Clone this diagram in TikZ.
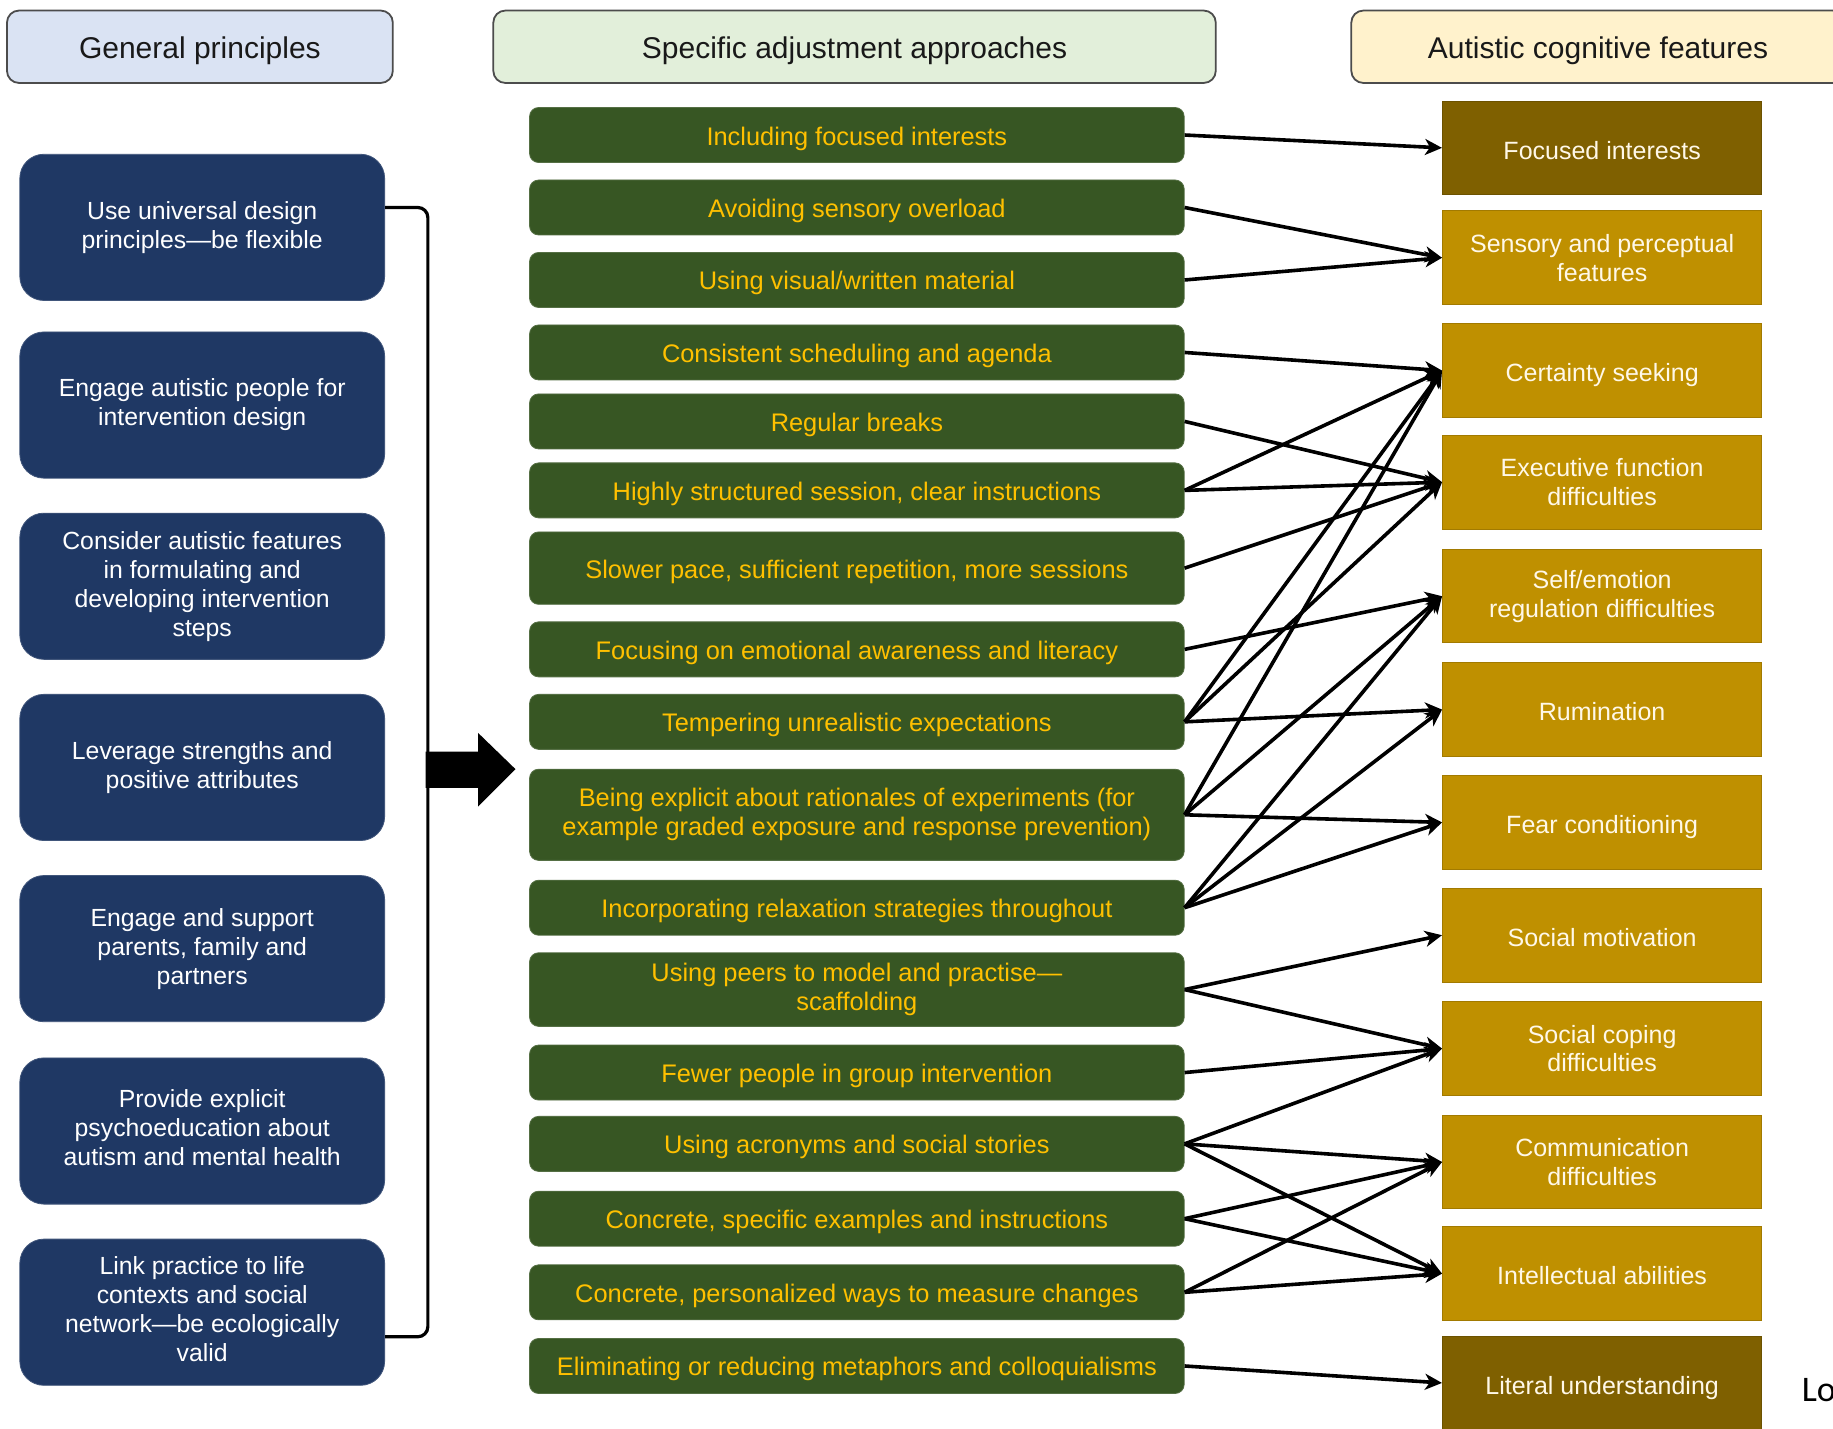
\documentclass[tikz,border=0pt]{standalone}
\usepackage{fontspec}
\setmainfont{Liberation Sans}
\newfontfamily\lofont{Carlito}
\usetikzlibrary{arrows.meta,calc}
\definecolor{cBlue}{HTML}{1F3864}
\definecolor{cGreen}{HTML}{375623}
\definecolor{cGold}{HTML}{BF9000}
\definecolor{cDarkGold}{HTML}{7F6000}
\definecolor{cGoldText}{HTML}{FFC000}
\definecolor{cHdrBlue}{HTML}{DAE3F3}
\definecolor{cHdrGreen}{HTML}{E2EFDA}
\definecolor{cHdrYellow}{HTML}{FFF2CC}
\definecolor{cCream}{HTML}{FFF8E8}
\begin{document}
\begin{tikzpicture}[x=0.5845pt,y=-0.5845pt,
 hdr/.style={draw=black!70,line width=0.9pt,rounded corners=6pt,minimum height=36.2pt,inner sep=0pt,text height=14pt,text depth=2.7pt,font=\fontsize{15}{18}\selectfont,text=black!90},
 gp/.style={fill=cBlue,draw=cBlue!85!white,line width=0.4pt,rounded corners=12pt,minimum width=182.4pt,minimum height=73.1pt,inner sep=0pt,align=center,text=white,font=\fontsize{12.4}{14.5}\selectfont},
 sa/.style={fill=cGreen,draw=cGreen!85!white,line width=0.4pt,rounded corners=4.5pt,minimum width=327.3pt,minimum height=27.5pt,inner sep=0pt,align=center,text=cGoldText,font=\fontsize{12.7}{14.6}\selectfont},
 one/.style={text height=12.6pt,text depth=2.6pt},
 onec/.style={text height=13.6pt,text depth=2.4pt},
 cf/.style={fill=cGold,draw=cGold!85!black,line width=0.5pt,minimum width=159.6pt,minimum height=46.8pt,inner sep=0pt,align=center,text=cCream,font=\fontsize{12.5}{14.4}\selectfont},
 cfdark/.style={cf,fill=cDarkGold,draw=cDarkGold!85!black},
 link/.style={line width=1.8pt,-{Stealth[length=8.5pt,width=8pt,inset=2.5pt]}},
 bracket/.style={line width=1.6pt,rounded corners=5pt}
]
\path[use as bounding box,fill=white] (0,0) rectangle (1568,1222);
\clip (0,0) rectangle (1568,1222);

% headers
\node[hdr,fill=cHdrBlue,minimum width=192.9pt] (h1) at (171,40) {General principles};
\node[hdr,fill=cHdrGreen,minimum width=361.2pt] (h2) at (731,40) {Specific adjustment approaches};
\node[hdr,fill=cHdrYellow,minimum width=246.7pt] (h3) at (1367,40) {Autistic cognitive features};

% general principles
\node[gp] (b1) at (173,194.5) {Use universal design\\principles—be flexible};
\node[gp] (b2) at (173,346.5) {Engage autistic people for\\intervention design};
\node[gp] (b3) at (173,501.5) {Consider autistic features\\in formulating and\\developing intervention\\steps};
\node[gp] (b4) at (173,656.5) {Leverage strengths and\\positive attributes};
\node[gp] (b5) at (173,811.5) {Engage and support\\parents, family and\\partners};
\node[gp] (b6) at (173,967.5) {\raisebox{2pt}{\begin{tabular}{@{}c@{}}Provide explicit\\psychoeducation about\\autism and mental health\end{tabular}}};
\node[gp] (b7) at (173,1122.5) {\raisebox{2.2pt}{\begin{tabular}{@{}c@{}}Link practice to life\\contexts and social\\network—be ecologically\\valid\end{tabular}}};

% bracket and block arrow
\coordinate (bmid) at (366,658);
\draw[bracket] ($(b1.east)+(0,-17)$) -| (bmid) |- ($(b7.east)+(0,21)$);
\fill[black] (364,643) -- (409,643) -- (409,627) -- (441,658) -- (409,690) -- (409,674) -- (364,674) -- cycle;

% specific adjustment approaches
\node[sa,one] (g1) at (733,115.5) {Including focused interests};
\node[sa,one] (g2) at (733,177.5) {Avoiding sensory overload};
\node[sa,one] (g3) at (733,239.5) {Using visual/written material};
\node[sa,one] (g4) at (733,301.5) {Consistent scheduling and agenda};
\node[sa,one] (g5) at (733,360.5) {Regular breaks};
\node[sa,one] (g6) at (733,419.5) {Highly structured session, clear instructions};
\node[sa,one,minimum height=36.2pt] (g7) at (733,486) {Slower pace, sufficient repetition, more sessions};
\node[sa,one] (g8) at (733,555.5) {Focusing on emotional awareness and literacy};
\node[sa,one] (g9) at (733,617.5) {Tempering unrealistic expectations};
\node[sa,minimum height=45.6pt] (g10) at (733,697) {Being explicit about rationales of experiments (for\\example graded exposure and response prevention)};
\node[sa,one] (g11) at (733,776.5) {Incorporating relaxation strategies throughout};
\node[sa,minimum height=36.8pt] (g12) at (733,846.5) {Using peers to model and practise—\\scaffolding};
\node[sa,one] (g13) at (733,917.5) {Fewer people in group intervention};
\node[sa,one] (g14) at (733,978.5) {Using acronyms and social stories};
\node[sa,one] (g15) at (733,1042.5) {Concrete, specific examples and instructions};
\node[sa,one] (g16) at (733,1105.5) {Concrete, personalized ways to measure changes};
\node[sa,one] (g17) at (733,1168.5) {Eliminating or reducing metaphors and colloquialisms};

% autistic cognitive features
\node[cfdark,onec] (r1) at (1370.5,126.5) {Focused interests};
\node[cf] (r2) at (1370.5,220.5) {Sensory and perceptual\\features};
\node[cf,onec] (r3) at (1370.5,317) {Certainty seeking};
\node[cf] (r4) at (1370.5,412.5) {Executive function\\difficulties};
\node[cf] (r5) at (1370.5,510) {Self/emotion\\regulation difficulties};
\node[cf,onec] (r6) at (1370.5,607) {Rumination};
\node[cf,onec] (r7) at (1370.5,703.5) {Fear conditioning};
\node[cf,onec] (r8) at (1370.5,800) {Social motivation};
\node[cf] (r9) at (1370.5,897) {Social coping\\difficulties};
\node[cf] (r10) at (1370.5,994) {Communication\\difficulties};
\node[cf,onec] (r11) at (1370.5,1089.5) {Intellectual abilities};
\node[cfdark,onec] (r12) at (1370.5,1183) {Literal understanding};

% connectors
\foreach \a/\b in {g1/r1,g2/r2,g3/r2,g4/r3,g5/r4,g6/r3,g6/r4,g7/r4,g8/r5,
  g9/r3,g9/r4,g9/r6,g10/r3,g10/r5,g10/r7,g11/r5,g11/r6,g11/r7,
  g12/r8,g12/r9,g13/r9,g14/r9,g14/r10,g14/r11,g15/r10,g15/r11,
  g16/r10,g16/r11,g17/r12}
  \draw[link] (\a.east) -- (\b.west);

% cut-off text at the right edge
\node[anchor=base west,inner sep=0pt,font=\lofont\fontsize{18}{20}\selectfont,text=black] (lo) at (1541,1199) {Lo};
\end{tikzpicture}
\end{document}
